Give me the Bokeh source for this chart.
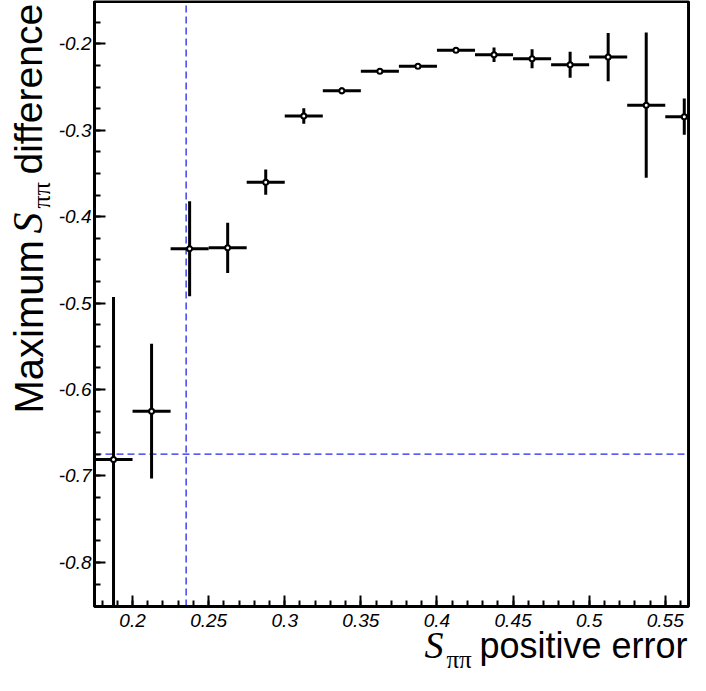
import numpy as np
from bokeh.plotting import figure
from bokeh.models import (Label, FixedTicker, CustomJSTickFormatter, Range1d,
                          ColumnDataSource, LinearAxis)
from bokeh.embed import file_html
from bokeh.resources import INLINE

# ---------------- data ----------------
bin_centers = [0.1875, 0.2125, 0.2375, 0.2625, 0.2875, 0.3125, 0.3375, 0.3625,
               0.3875, 0.4125, 0.4375, 0.4625, 0.4875, 0.5125, 0.5375, 0.5625]
bin_half_width = 0.0125
max_diff = [-0.681, -0.625, -0.437, -0.436, -0.360, -0.2835, -0.2544, -0.2318,
            -0.2260, -0.2073, -0.2126, -0.2172, -0.2241, -0.2153, -0.2709, -0.2842]
max_diff_err = [0.188, 0.078, 0.055, 0.029, 0.0145, 0.009, 0.004, 0.003,
                0.003, 0.003, 0.0085, 0.011, 0.015, 0.028, 0.084, 0.021]

cut_x = 0.2352
cut_y = -0.6748

# plotted box (axis limits) and the canvas ranges around it
box_x = (0.175, 0.5653)
box_y = (-0.851, -0.151)
canvas_x = (0.11324, 0.56659)
canvas_y = (-0.93083, -0.14984)

x_ticks = [0.2, 0.25, 0.3, 0.35, 0.4, 0.45, 0.5, 0.55]
x_tick_labels = ["0.2", "0.25", "0.3", "0.35", "0.4", "0.45", "0.5", "0.55"]
y_ticks = [-0.8, -0.7, -0.6, -0.5, -0.4, -0.3, -0.2]
y_tick_labels = ["-0.8", "-0.7", "-0.6", "-0.5", "-0.4", "-0.3", "-0.2"]
x_minor = [round(v, 3) for v in np.arange(0.18, 0.5651, 0.01)]
y_minor = [round(v, 3) for v in np.arange(-0.825, -0.1555, 0.025)]

# ---------------- figure ----------------
p = figure(width=690, height=675,
           x_range=Range1d(*canvas_x), y_range=Range1d(*canvas_y),
           x_axis_location=None, y_axis_location=None,
           output_backend="svg", toolbar_location=None,
           min_border_left=0, min_border_right=0, min_border_top=0,
           min_border_bottom=0)
p.min_border = 0
p.background_fill_color = "white"
p.border_fill_color = "white"
p.outline_line_color = None
p.grid.visible = False

x = np.array(bin_centers)
y = np.array(max_diff)
e = np.array(max_diff_err)
src = ColumnDataSource(dict(
    x=x, y=y,
    xl=np.maximum(x - bin_half_width, box_x[0]),
    xr=np.minimum(x + bin_half_width, box_x[1]),
    yl=np.maximum(y - e, box_y[0]),
    yh=np.minimum(y + e, box_y[1])))

# dashed cut lines
p.segment(x0=[cut_x], y0=[box_y[0]], x1=[cut_x], y1=[box_y[1]],
          line_color="#2323f0", line_width=1.3, line_dash="7 4")
p.segment(x0=[box_x[0]], y0=[cut_y], x1=[box_x[1]], y1=[cut_y],
          line_color="#2323f0", line_width=1.3, line_dash="7 4")

# frame box
p.quad(left=[box_x[0]], right=[box_x[1]], bottom=[box_y[0]], top=[box_y[1]],
       fill_color=None, line_color="black", line_width=3)

# error bars + markers
p.segment(x0="xl", y0="y", x1="xr", y1="y", source=src, line_color="black", line_width=3)
p.segment(x0="x", y0="yl", x1="x", y1="yh", source=src, line_color="black", line_width=3)
p.scatter(x="x", y="y", source=src, size=5, fill_color="white", line_color="black",
          line_width=2)

# ---------------- axes ----------------
fmt_code = ("const i = tv.findIndex(t => Math.abs(t - tick) < 1e-9);"
            "return i >= 0 ? tl[i] : '';")
xaxis = LinearAxis(fixed_location=box_y[0], bounds=box_x,
                   ticker=FixedTicker(ticks=x_ticks, minor_ticks=x_minor),
                   formatter=CustomJSTickFormatter(args=dict(tv=x_ticks, tl=x_tick_labels),
                                                   code=fmt_code))
yaxis = LinearAxis(fixed_location=box_x[0], bounds=box_y,
                   ticker=FixedTicker(ticks=y_ticks, minor_ticks=y_minor),
                   formatter=CustomJSTickFormatter(args=dict(tv=y_ticks, tl=y_tick_labels),
                                                   code=fmt_code))
for ax in (xaxis, yaxis):
    ax.axis_line_color = "black"
    ax.axis_line_width = 3
    ax.major_tick_line_color = "black"
    ax.major_tick_line_width = 2
    ax.minor_tick_line_color = "black"
    ax.minor_tick_line_width = 2
    ax.major_tick_in = 11
    ax.major_tick_out = 0
    ax.minor_tick_in = 6
    ax.minor_tick_out = 0
    ax.major_label_text_font = "Liberation Sans"
    ax.major_label_text_font_style = "italic"
    ax.major_label_text_font_size = "19px"
    ax.major_label_text_color = "black"
xaxis.major_label_standoff = 7
yaxis.major_label_standoff = 3
p.add_layout(xaxis, "below")
p.add_layout(yaxis, "left")

# ---------------- titles (screen px from the canvas bottom-left) ----------------
sans = "Liberation Sans"
serif = "Liberation Serif"
H = 675
p.add_layout(Label(x=28, y=H - 413, x_units="screen", y_units="screen", text="Maximum",
                   angle=90, angle_units="deg", text_font=sans, text_font_size="40px",
                   text_align="left", text_baseline="alphabetic", text_color="black"))
p.add_layout(Label(x=27, y=H - 233, x_units="screen", y_units="screen", text="S",
                   angle=90, angle_units="deg", text_font=serif, text_font_style="italic",
                   text_font_size="42px", text_align="left", text_baseline="alphabetic",
                   text_color="black"))
p.add_layout(Label(x=41, y=H - 208, x_units="screen", y_units="screen", text="ππ",
                   angle=90, angle_units="deg", text_font=serif, text_font_size="26px",
                   text_align="left", text_baseline="alphabetic", text_color="black"))
p.add_layout(Label(x=28, y=H - 174, x_units="screen", y_units="screen", text="difference",
                   angle=90, angle_units="deg", text_font=sans, text_font_size="39px",
                   text_align="left", text_baseline="alphabetic", text_color="black"))
p.add_layout(Label(x=424, y=H - 644, x_units="screen", y_units="screen", text="S",
                   text_font=serif, text_font_style="italic", text_font_size="38px",
                   text_align="left", text_baseline="alphabetic", text_color="black"))
p.add_layout(Label(x=446, y=H - 659, x_units="screen", y_units="screen", text="ππ",
                   text_font=serif, text_font_size="25px",
                   text_align="left", text_baseline="alphabetic", text_color="black"))
p.add_layout(Label(x=687, y=H - 645, x_units="screen", y_units="screen", text="positive error",
                   text_font=sans, text_font_size="36px",
                   text_align="right", text_baseline="alphabetic", text_color="black"))

open("out.html", "w").write(file_html(p, INLINE))
